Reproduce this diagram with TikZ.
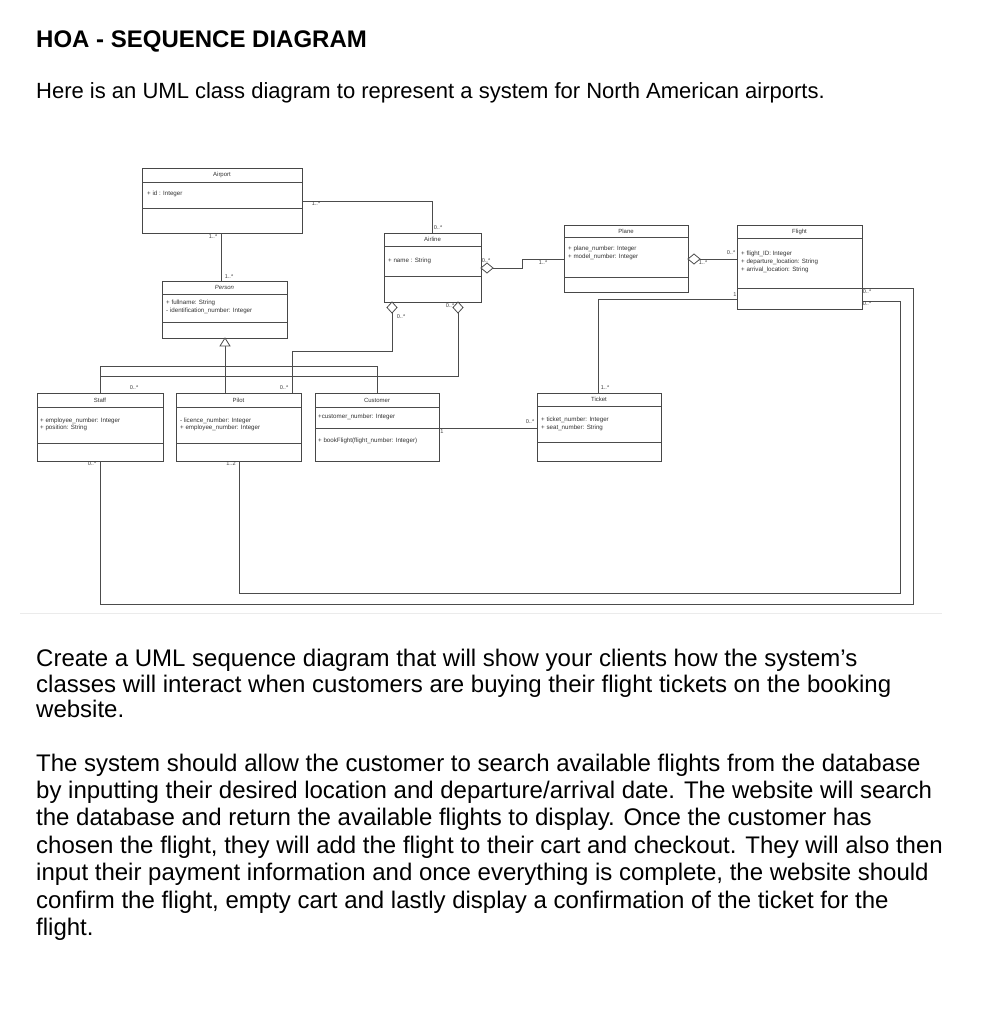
\documentclass[tikz,border=0pt]{standalone}
\usepackage{fontspec}
\setmainfont{Liberation Sans}
\tikzset{
  ln/.style={draw=black!70, line width=0.8pt},
  cls/.style={draw=black!72, line width=0.9pt, fill=white, inner sep=0pt, outer sep=0pt},
  cname/.style={font=\fontsize{6}{7}\selectfont, text=black!80, inner sep=0pt},
  attr/.style={font=\fontsize{6.2}{7}\selectfont, text=black!80, inner sep=0pt, anchor=west},
  mult/.style={font=\fontsize{5.6}{6}\selectfont, text=black!75, inner sep=0pt},
  body/.style={font=\fontsize{22}{26}\selectfont, anchor=base west, inner sep=0pt},
  para/.style={font=\fontsize{24}{27}\selectfont, anchor=base west, inner sep=0pt},
  dia/.style={draw=black!70, line width=0.8pt, fill=white},
}
% name, left, top, right, bottom, header y, separator y, title
\newcommand\umlclass[8]{%
  \node[cls, anchor=north west, minimum width={(#4-#2)*1pt}, minimum height={(#5-#3)*1pt}] (#1) at (#2,#3) {};
  \draw[ln] (#2,#6) -- (#4,#6);
  \draw[ln] (#2,#7) -- (#4,#7);
  \node[cname] (#1-name) at ({(#2+#4)/2},{(#3+#6)/2}) {#8};
}
\begin{document}
\begin{tikzpicture}[x=1pt,y=-1pt]
\useasboundingbox[fill=white] (0,0) rectangle (982,1028);

% ---------- text ----------
\node[body, font=\fontsize{24}{28}\selectfont\bfseries] (title) at (36,47) {HOA - SEQUENCE DIAGRAM};
\node[body] (intro) at (36,98) {Here is an UML class diagram to represent a system for North American airports.};

\node[para] (p1a) at (36,666) {Create a UML sequence diagram that will show your clients how the system’s};
\node[para] (p1b) at (36,692) {classes will interact when customers are buying their flight tickets on the booking};
\node[para] (p1c) at (36,717) {website.};

\node[para] (p2a) at (36,771) {The system should allow the customer to search available flights from the database};
\node[para] (p2b) at (36,798) {by inputting their desired location and departure/arrival date. The website will search};
\node[para] (p2c) at (36,825) {the database and return the available flights to display. Once the customer has};
\node[para] (p2d) at (36,853) {chosen the flight, they will add the flight to their cart and checkout. They will also then};
\node[para] (p2e) at (36,880) {input their payment information and once everything is complete, the website should};
\node[para] (p2f) at (36,908) {confirm the flight, empty cart and lastly display a confirmation of the ticket for the};
\node[para] (p2g) at (36,935) {flight.};

% faint frame line under the class diagram
\draw[black!8, line width=1pt] (20,613) -- (942,613);

% ---------- classes ----------
\umlclass{airport}{142}{168}{302}{233}{182}{208}{Airport}
\node[attr] at (147,194) {+ id : Integer};

\umlclass{person}{162}{281}{287}{338}{294}{322}{\itshape Person}
\node[attr] at (166,303) {+ fullname: String};
\node[attr] at (166,311) {- identification\_number: Integer};

\umlclass{airline}{384}{233}{481}{302}{246}{276}{Airline}
\node[attr] at (388,261) {+ name : String};

\umlclass{plane}{564}{225}{688}{292}{237}{277}{Plane}
\node[attr] at (568,249) {+ plane\_number: Integer};
\node[attr] at (568,257) {+ model\_number: Integer};

\umlclass{flight}{737}{225}{862}{309}{238}{288}{Flight}
\node[attr] at (741,254) {+ flight\_ID: Integer};
\node[attr] at (741,262) {+ departure\_location: String};
\node[attr] at (741,270) {+ arrival\_location: String};

\umlclass{staff}{37}{393}{163}{461}{407}{443}{Staff}
\node[attr] at (40,421) {+ employee\_number: Integer};
\node[attr] at (40,428) {+ position: String};

\umlclass{pilot}{176}{393}{301}{461}{407}{443}{Pilot}
\node[attr] at (180,421) {- licence\_number: Integer};
\node[attr] at (180,428) {+ employee\_number: Integer};

\umlclass{customer}{315}{393}{439}{461}{407}{428}{Customer}
\node[attr] at (318,417) {+customer\_number: Integer};
\node[attr] at (318,441) {+ bookFlight(flight\_number: Integer)};

\umlclass{ticket}{537}{393}{661}{461}{406}{442}{Ticket}
\node[attr] at (541,420) {+ ticket\_number: Integer};
\node[attr] at (541,428) {+ seat\_number: String};

% ---------- connectors ----------
% Airport - Airline
\draw[ln] ([yshift=-33pt]airport.north east) -| ([xshift=48pt]airline.north west);
% Airport - Person
\draw[ln] ([xshift=79pt]airport.south west) -- ([xshift=59pt]person.north west);
% Airline - Pilot (aggregation)
\draw[ln] ([xshift=8pt,yshift=-11pt]airline.south west) -- ++(0,-38pt) -| ([xshift=116pt]pilot.north west);
% Airline - Staff (aggregation)
\draw[ln] ([xshift=74pt,yshift=-11pt]airline.south west) -- ++(0,-63pt) -| ([xshift=63pt]staff.north west);
% Generalization Person <- Staff, Pilot, Customer
\draw[ln] ([xshift=63pt,yshift=-8pt]person.south west) -- ([xshift=49pt]pilot.north west);
\draw[ln] ([xshift=63pt]staff.north west) -- ++(0,27pt) -| ([xshift=62pt]customer.north west);
% Airline - Plane
\draw[ln] ([xshift=12pt,yshift=-35pt]airline.north east) -- ++(29pt,0) |- ([yshift=-34pt]plane.north west);
% Plane - Flight
\draw[ln] ([xshift=12pt,yshift=-34pt]plane.north east) -- ([yshift=-34pt]flight.north west);
% Flight - Ticket
\draw[ln] ([yshift=-74pt]flight.north west) -| ([xshift=61pt]ticket.north west);
% Customer - Ticket
\draw[ln] ([yshift=-35pt]customer.north east) -- ([yshift=-35pt]ticket.north west);
% Flight - Staff
\draw[ln] ([yshift=-63pt]flight.north east) -- ++(51pt,0) -- ++(0,-316pt) -| ([xshift=63pt]staff.south west);
% Flight - Pilot
\draw[ln] ([yshift=-76pt]flight.north east) -- ++(38pt,0) -- ++(0,-292pt) -| ([xshift=63pt]pilot.south west);

% ---------- multiplicities ----------
\node[mult] at (316,204) {1..*};
\node[mult] at (438,228) {0..*};
\node[mult] at (213,237) {1..*};
\node[mult] at (229,277) {1..*};
\node[mult] at (401,317) {0..*};
\node[mult] at (450,306) {0..*};
\node[mult] at (284,388) {0..*};
\node[mult] at (134,388) {0..*};
\node[mult] at (486,261) {0..*};
\node[mult] at (543,263) {1..*};
\node[mult] at (703,263) {1..*};
\node[mult] at (731,253) {0..*};
\node[mult] at (735,295) {1};
\node[mult] at (867,292) {0..*};
\node[mult] at (867,304) {0..*};
\node[mult] at (605,388) {1..*};
\node[mult] at (442,432) {1};
\node[mult] at (530,422) {0..*};
\node[mult] at (92,464) {0..*};
\node[mult] at (231,464) {1..2};

% ---------- diamonds and triangle ----------
\draw[dia] ([xshift=8pt]airline.south west) -- ++(5pt,-5.5pt) -- ++(-5pt,-5.5pt) -- ++(-5pt,5.5pt) -- cycle;
\draw[dia] ([xshift=74pt]airline.south west) -- ++(5pt,-5.5pt) -- ++(-5pt,-5.5pt) -- ++(-5pt,5.5pt) -- cycle;
\draw[dia] ([yshift=-35pt]airline.north east) -- ++(6pt,5pt) -- ++(6pt,-5pt) -- ++(-6pt,-5pt) -- cycle;
\draw[dia] ([yshift=-34pt]plane.north east) -- ++(6pt,5pt) -- ++(6pt,-5pt) -- ++(-6pt,-5pt) -- cycle;
\draw[dia] ([xshift=63pt]person.south west) -- ++(5pt,-8pt) -- ++(-10pt,0) -- cycle;
\end{tikzpicture}
\end{document}
